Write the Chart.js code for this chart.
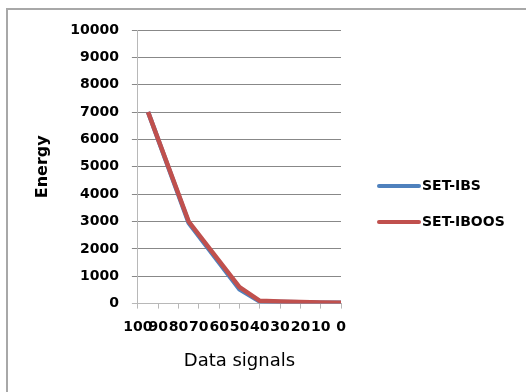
<!DOCTYPE html>
<html>
<head>
<meta charset="utf-8">
<script src="https://cdn.jsdelivr.net/npm/chart.js@4/dist/chart.umd.min.js"></script>
<style>
  html, body { margin: 0; padding: 0; background: #ffffff; }
  #wrap { position: relative; width: 526px; height: 392px; }
</style>
</head>
<body>
<div id="wrap"><canvas id="c" width="526" height="392"></canvas></div>
<script>
// Number of data signals (x) and the energy of each scheme at that point
const signals    = [95, 75, 50, 40, 30, 20, 10, 0];
const energyIBS   = [7000, 2950, 520, 80, 60, 45, 35, 30];
const energyIBOOS = [7000, 3000, 600, 100, 75, 55, 40, 30];
const seriesNames = ['SET-IBS', 'SET-IBOOS'];
const seriesColors = ['#4F81BD', '#C0504D'];
const xTicks = [100, 90, 80, 70, 60, 50, 40, 30, 20, 10, 0];
const yTicks = [0, 1000, 2000, 3000, 4000, 5000, 6000, 7000, 8000, 9000, 10000];

const FONT = "'DejaVu Sans', sans-serif";

function points(ys) {
  return signals.map((x, i) => ({ x: x, y: ys[i] }));
}

// Frame line on the left and top edges of the chart box
const framePlugin = {
  id: 'frame',
  beforeDraw(chart) {
    const ctx = chart.ctx;
    ctx.save();
    ctx.strokeStyle = '#a8a8a8';
    ctx.lineWidth = 2;
    ctx.beginPath();
    ctx.moveTo(7, 392);
    ctx.lineTo(7, 9);
    ctx.lineTo(526, 9);
    ctx.stroke();
    ctx.restore();
  }
};

// Series key drawn to the right of the plot
const keyPlugin = {
  id: 'seriesKey',
  afterDraw(chart) {
    const ctx = chart.ctx;
    ctx.save();
    chart.data.datasets.forEach((ds, i) => {
      const y = 186 + i * 36;
      ctx.strokeStyle = ds.borderColor;
      ctx.lineWidth = 4;
      ctx.lineCap = 'round';
      ctx.beginPath();
      ctx.moveTo(379, y);
      ctx.lineTo(419, y);
      ctx.stroke();
      ctx.fillStyle = '#000000';
      ctx.font = "bold 14px " + FONT;
      ctx.textBaseline = 'middle';
      ctx.textAlign = 'left';
      ctx.fillText(ds.label, 422, y);
    });
    ctx.restore();
  }
};

new Chart(document.getElementById('c'), {
  type: 'line',
  data: {
    datasets: [
      // higher order is painted first, so the second series sits on top
      { label: seriesNames[0], data: points(energyIBS), order: 2, borderColor: seriesColors[0], backgroundColor: seriesColors[0], borderWidth: 4.5, pointRadius: 0, tension: 0 },
      { label: seriesNames[1], data: points(energyIBOOS), order: 1, borderColor: seriesColors[1], backgroundColor: seriesColors[1], borderWidth: 4.5, pointRadius: 0, tension: 0 }
    ]
  },
  options: {
    responsive: false,
    animation: false,
    devicePixelRatio: 1,
    layout: { padding: { left: 20, top: 30, right: 185, bottom: 16 } },
    plugins: {
      legend: { display: false },
      tooltip: { enabled: false }
    },
    scales: {
      x: {
        type: 'linear',
        reverse: true,
        min: 0,
        max: 100,
        afterBuildTicks(scale) { scale.ticks = xTicks.map(v => ({ value: v })); },
        grid: {
          drawOnChartArea: false,
          drawTicks: true,
          tickLength: 5,
          color: '#b8b8b8'
        },
        border: { color: '#b8b8b8', width: 1 },
        ticks: {
          autoSkip: false,
          maxRotation: 0,
          minRotation: 0,
          padding: 10,
          color: '#000000',
          font: { family: FONT, size: 14, weight: 'bold' },
          callback: (v) => String(v)
        },
        title: {
          display: true,
          text: 'Data signals',
          color: '#000000',
          font: { family: FONT, size: 18, weight: 'normal' },
          padding: { top: 5, bottom: 4 }
        }
      },
      y: {
        min: 0,
        max: 10000,
        afterBuildTicks(scale) { scale.ticks = yTicks.map(v => ({ value: v })); },
        grid: {
          color: (c) => (c.tick && c.tick.value === 0 ? '#b8b8b8' : '#888888'),
          tickLength: 6,
          lineWidth: 1
        },
        border: { color: '#b8b8b8', width: 1 },
        ticks: {
          padding: 13,
          color: '#000000',
          font: { family: FONT, size: 14, weight: 'bold' },
          callback: (v) => String(v)
        },
        title: {
          display: true,
          text: 'Energy',
          color: '#000000',
          font: { family: FONT, size: 16, weight: 'bold' },
          padding: { top: 13, bottom: 5 }
        }
      }
    }
  },
  plugins: [framePlugin, keyPlugin]
});
</script>
</body>
</html>
